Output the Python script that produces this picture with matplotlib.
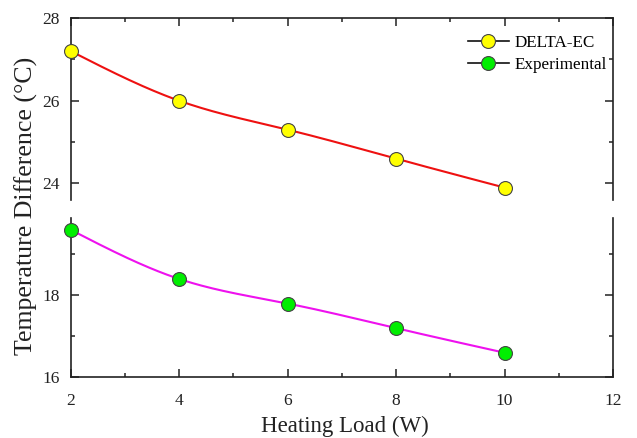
import numpy as np
import matplotlib.pyplot as plt

plt.rcParams['font.family'] = ['Liberation Serif', 'DejaVu Serif']

# data
load = [2, 4, 6, 8, 10]
delta_ec = [27.2, 26.0, 25.3, 24.6, 23.9]
experimental = [19.6, 18.4, 17.8, 17.2, 16.6]


def smooth(x, y, n=200):
    # natural cubic spline, only used to draw the connecting curve
    x = np.asarray(x, float)
    y = np.asarray(y, float)
    h = np.diff(x)
    m = len(x)
    A = np.zeros((m, m))
    r = np.zeros(m)
    A[0, 0] = A[-1, -1] = 1.0
    for i in range(1, m - 1):
        A[i, i - 1] = h[i - 1]
        A[i, i] = 2 * (h[i - 1] + h[i])
        A[i, i + 1] = h[i]
        r[i] = 6 * ((y[i + 1] - y[i]) / h[i] - (y[i] - y[i - 1]) / h[i - 1])
    M = np.linalg.solve(A, r)
    xs = np.linspace(x[0], x[-1], n)
    k = np.clip(np.searchsorted(x, xs) - 1, 0, m - 2)
    t0 = xs - x[k]
    t1 = x[k + 1] - xs
    hk = h[k]
    ys = (M[k] * t1 ** 3 + M[k + 1] * t0 ** 3) / (6 * hk) \
        + (y[k] / hk - M[k] * hk / 6) * t1 + (y[k + 1] / hk - M[k + 1] * hk / 6) * t0
    return xs, ys


W, H = 637, 438
fig = plt.figure(figsize=(W / 100, H / 100), dpi=100)
left, right = 70.7 / W, 613 / W
ax_top = fig.add_axes([left, 1 - 200 / H, right - left, (200 - 18) / H])
ax_bot = fig.add_axes([left, 1 - 377.3 / H, right - left, (377.3 - 217.5) / H])

for ax in (ax_top, ax_bot):
    ax.set_xlim(2, 12)
    ax.set_xticks([2, 4, 6, 8, 10, 12])
    ax.set_xticks([3, 5, 7, 9, 11], minor=True)
    ax.tick_params(which='both', direction='in', top=True, right=True,
                   width=1.1, labelsize=12.5, colors='#222222')
    ax.tick_params(which='major', length=6)
    ax.tick_params(which='minor', length=3)
    ax.tick_params(axis='x', pad=11)
    ax.tick_params(axis='y', pad=8)
    for s in ax.spines.values():
        s.set_linewidth(1.2)
        s.set_color('#222222')

ax_top.spines['bottom'].set_visible(False)
ax_top.tick_params(which='both', bottom=False, labelbottom=False)
ax_bot.spines['top'].set_visible(False)
ax_bot.tick_params(which='both', top=False)

ax_top.set_ylim(23.6, 28)
ax_top.set_yticks([24, 26, 28])
ax_top.set_yticks([25, 27], minor=True)
ax_bot.set_ylim(16, 19.9)
ax_bot.set_yticks([16, 18])
ax_bot.set_yticks([17, 19], minor=True)

xs, ys = smooth(load, delta_ec)
ax_top.plot(xs, ys, color='#ee1111', lw=1.5, zorder=2)
ax_top.plot(load, delta_ec, 'o', ms=10, mfc='#ffff00', mec='#444444', mew=0.8,
            clip_on=False, zorder=3)
xs, ys = smooth(load, experimental)
ax_bot.plot(xs, ys, color='#ee11ee', lw=1.5, zorder=2)
ax_bot.plot(load, experimental, 'o', ms=10, mfc='#00ee00', mec='#444444', mew=0.8,
            clip_on=False, zorder=3)

h1, = ax_top.plot([], [], '-o', color='#111111', lw=1.2, ms=10, mfc='#ffff00',
                  mec='#444444', mew=0.8)
h2, = ax_top.plot([], [], '-o', color='#111111', lw=1.2, ms=10, mfc='#00ee00',
                  mec='#444444', mew=0.8)
fig.legend([h1, h2], ['DELTA-EC', 'Experimental'], loc='upper left',
           bbox_to_anchor=(459 / W, 1 - 26 / H), frameon=False, fontsize=12.3,
           borderpad=0, handlelength=2.4, handletextpad=0.35, labelspacing=0.35)

fig.text(26 / W, 1 - 206 / H, 'Temperature Difference (°C)', rotation=90,
         ha='center', va='center', fontsize=18.6, color='#222222')
fig.text(345 / W, 1 - 426 / H, 'Heating Load (W)', ha='center', va='center',
         fontsize=16.5, color='#222222')

fig.savefig('out.png', dpi=100)
